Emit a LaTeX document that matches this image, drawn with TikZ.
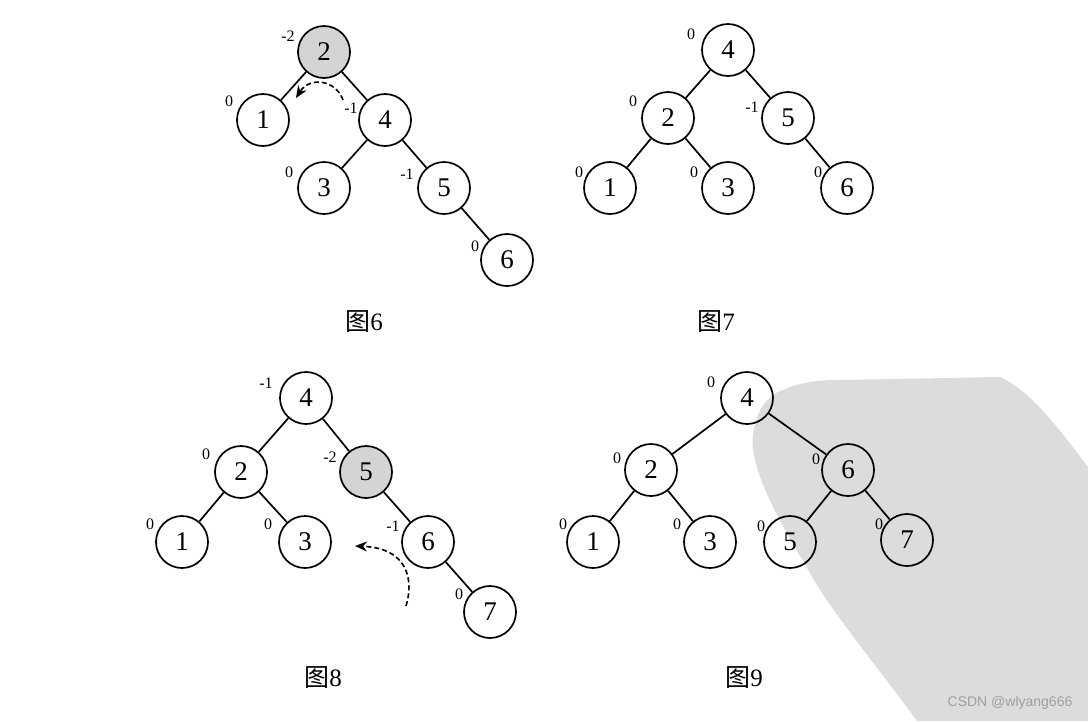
\documentclass[tikz,border=0pt]{standalone}
\usepackage{fontspec}
\setmainfont{Liberation Serif}
\newfontfamily\cjk{Noto Sans CJK SC}
\newfontfamily\wmfont{Liberation Sans}
\usetikzlibrary{arrows.meta}
\definecolor{blob}{HTML}{DCDCDC}
\definecolor{hlfill}{HTML}{D4D4D4}
\tikzset{
  nd/.style={circle,draw,line width=1.7pt,minimum size=52pt,inner sep=0pt,font=\fontsize{27}{27}\selectfont},
  hl/.style={nd,fill=hlfill},
  bf/.style={inner sep=0pt,font=\fontsize{16}{16}\selectfont},
  capt/.style={inner sep=0pt,font=\fontsize{25}{25}\selectfont},
  edge/.style={line width=1.7pt},
  rot/.style={line width=1.6pt,dash pattern=on 5pt off 3pt,-{Stealth[length=12pt,width=10pt]}}
}
\begin{document}
\begin{tikzpicture}[x=1pt,y=-1pt]
\useasboundingbox (0,0) rectangle (1088,721);
\fill[white] (0,0) rectangle (1088,721);
% watermark background
\fill[blob] (753,450) .. controls (750,420) and (765,395) .. (783,390)
  .. controls (800,382) and (820,380) .. (840,380)
  -- (1000,377) .. controls (1030,390) and (1060,430) .. (1088,467)
  -- (1088,721) -- (917,721)
  .. controls (880,670) and (830,610) .. (810,573)
  .. controls (785,530) and (760,490) .. (753,450) -- cycle;

% ---------- Figure 6 ----------
\node[hl] (a2) at (324,52) {2};
\node[nd] (a1) at (263,120) {1};
\node[nd] (a4) at (385,120) {4};
\node[nd] (a3) at (324,188) {3};
\node[nd] (a5) at (444,188) {5};
\node[nd] (a6) at (507,260) {6};
\draw[edge] (a2) -- (a1);
\draw[edge] (a2) -- (a4);
\draw[edge] (a4) -- (a3);
\draw[edge] (a4) -- (a5);
\draw[edge] (a5) -- (a6);
\node[bf] (ba2) at (288,36) {-2};
\node[bf] (ba1) at (229,101) {0};
\node[bf] (ba4) at (351,108) {-1};
\node[bf] (ba3) at (289,172) {0};
\node[bf] (ba5) at (407,174) {-1};
\node[bf] (ba6) at (475,246) {0};
\coordinate (ra0) at (343,100);
\coordinate (ra1) at (296,98);
\draw[rot] (ra0) .. controls (336,80) and (310,76) .. (ra1);
\node[capt] (ca) at (364,322) {{\cjk 图}6};

% ---------- Figure 7 ----------
\node[nd] (b4) at (728,50) {4};
\node[nd] (b2) at (668,118) {2};
\node[nd] (b5) at (788,118) {5};
\node[nd] (b1) at (610,188) {1};
\node[nd] (b3) at (728,188) {3};
\node[nd] (b6) at (847,188) {6};
\draw[edge] (b4) -- (b2);
\draw[edge] (b4) -- (b5);
\draw[edge] (b2) -- (b1);
\draw[edge] (b2) -- (b3);
\draw[edge] (b5) -- (b6);
\node[bf] (bb4) at (691,34) {0};
\node[bf] (bb2) at (633,101) {0};
\node[bf] (bb5) at (752,107) {-1};
\node[bf] (bb1) at (579,172) {0};
\node[bf] (bb3) at (694,172) {0};
\node[bf] (bb6) at (818,172) {0};
\node[capt] (cb) at (716,322) {{\cjk 图}7};

% ---------- Figure 8 ----------
\node[nd] (c4) at (306,398) {4};
\node[nd] (c2) at (241,472) {2};
\node[hl] (c5) at (366,472) {5};
\node[nd] (c1) at (182,542) {1};
\node[nd] (c3) at (305,542) {3};
\node[nd] (c6) at (428,542) {6};
\node[nd] (c7) at (490,612) {7};
\draw[edge] (c4) -- (c2);
\draw[edge] (c4) -- (c5);
\draw[edge] (c2) -- (c1);
\draw[edge] (c2) -- (c3);
\draw[edge] (c5) -- (c6);
\draw[edge] (c6) -- (c7);
\node[bf] (bc4) at (266,383) {-1};
\node[bf] (bc2) at (206,454) {0};
\node[bf] (bc5) at (330,457) {-2};
\node[bf] (bc1) at (150,524) {0};
\node[bf] (bc3) at (268,524) {0};
\node[bf] (bc6) at (393,526) {-1};
\node[bf] (bc7) at (459,594) {0};
\coordinate (rc0) at (406,606);
\coordinate (rc1) at (355,546);
\draw[rot] (rc0) .. controls (414,580) and (408,548) .. (rc1);
\node[capt] (cc) at (323,678) {{\cjk 图}8};

% ---------- Figure 9 ----------
\node[nd] (d4) at (747,398) {4};
\node[nd] (d2) at (651,470) {2};
\node[nd] (d6) at (848,470) {6};
\node[nd] (d1) at (593,542) {1};
\node[nd] (d3) at (710,542) {3};
\node[nd] (d5) at (790,542) {5};
\node[nd] (d7) at (907,540) {7};
\draw[edge] (d4) -- (d2);
\draw[edge] (d4) -- (d6);
\draw[edge] (d2) -- (d1);
\draw[edge] (d2) -- (d3);
\draw[edge] (d6) -- (d5);
\draw[edge] (d6) -- (d7);
\node[bf] (bd4) at (711,382) {0};
\node[bf] (bd2) at (617,458) {0};
\node[bf] (bd6) at (816,459) {0};
\node[bf] (bd1) at (563,524) {0};
\node[bf] (bd3) at (677,524) {0};
\node[bf] (bd5) at (761,526) {0};
\node[bf] (bd7) at (879,524) {0};
\node[capt] (cd) at (744,678) {{\cjk 图}9};

\node[inner sep=0pt,font=\wmfont\fontsize{14}{14}\selectfont,text=gray!75] (wm) at (1010,703) {CSDN @wlyang666};
\end{tikzpicture}
\end{document}
